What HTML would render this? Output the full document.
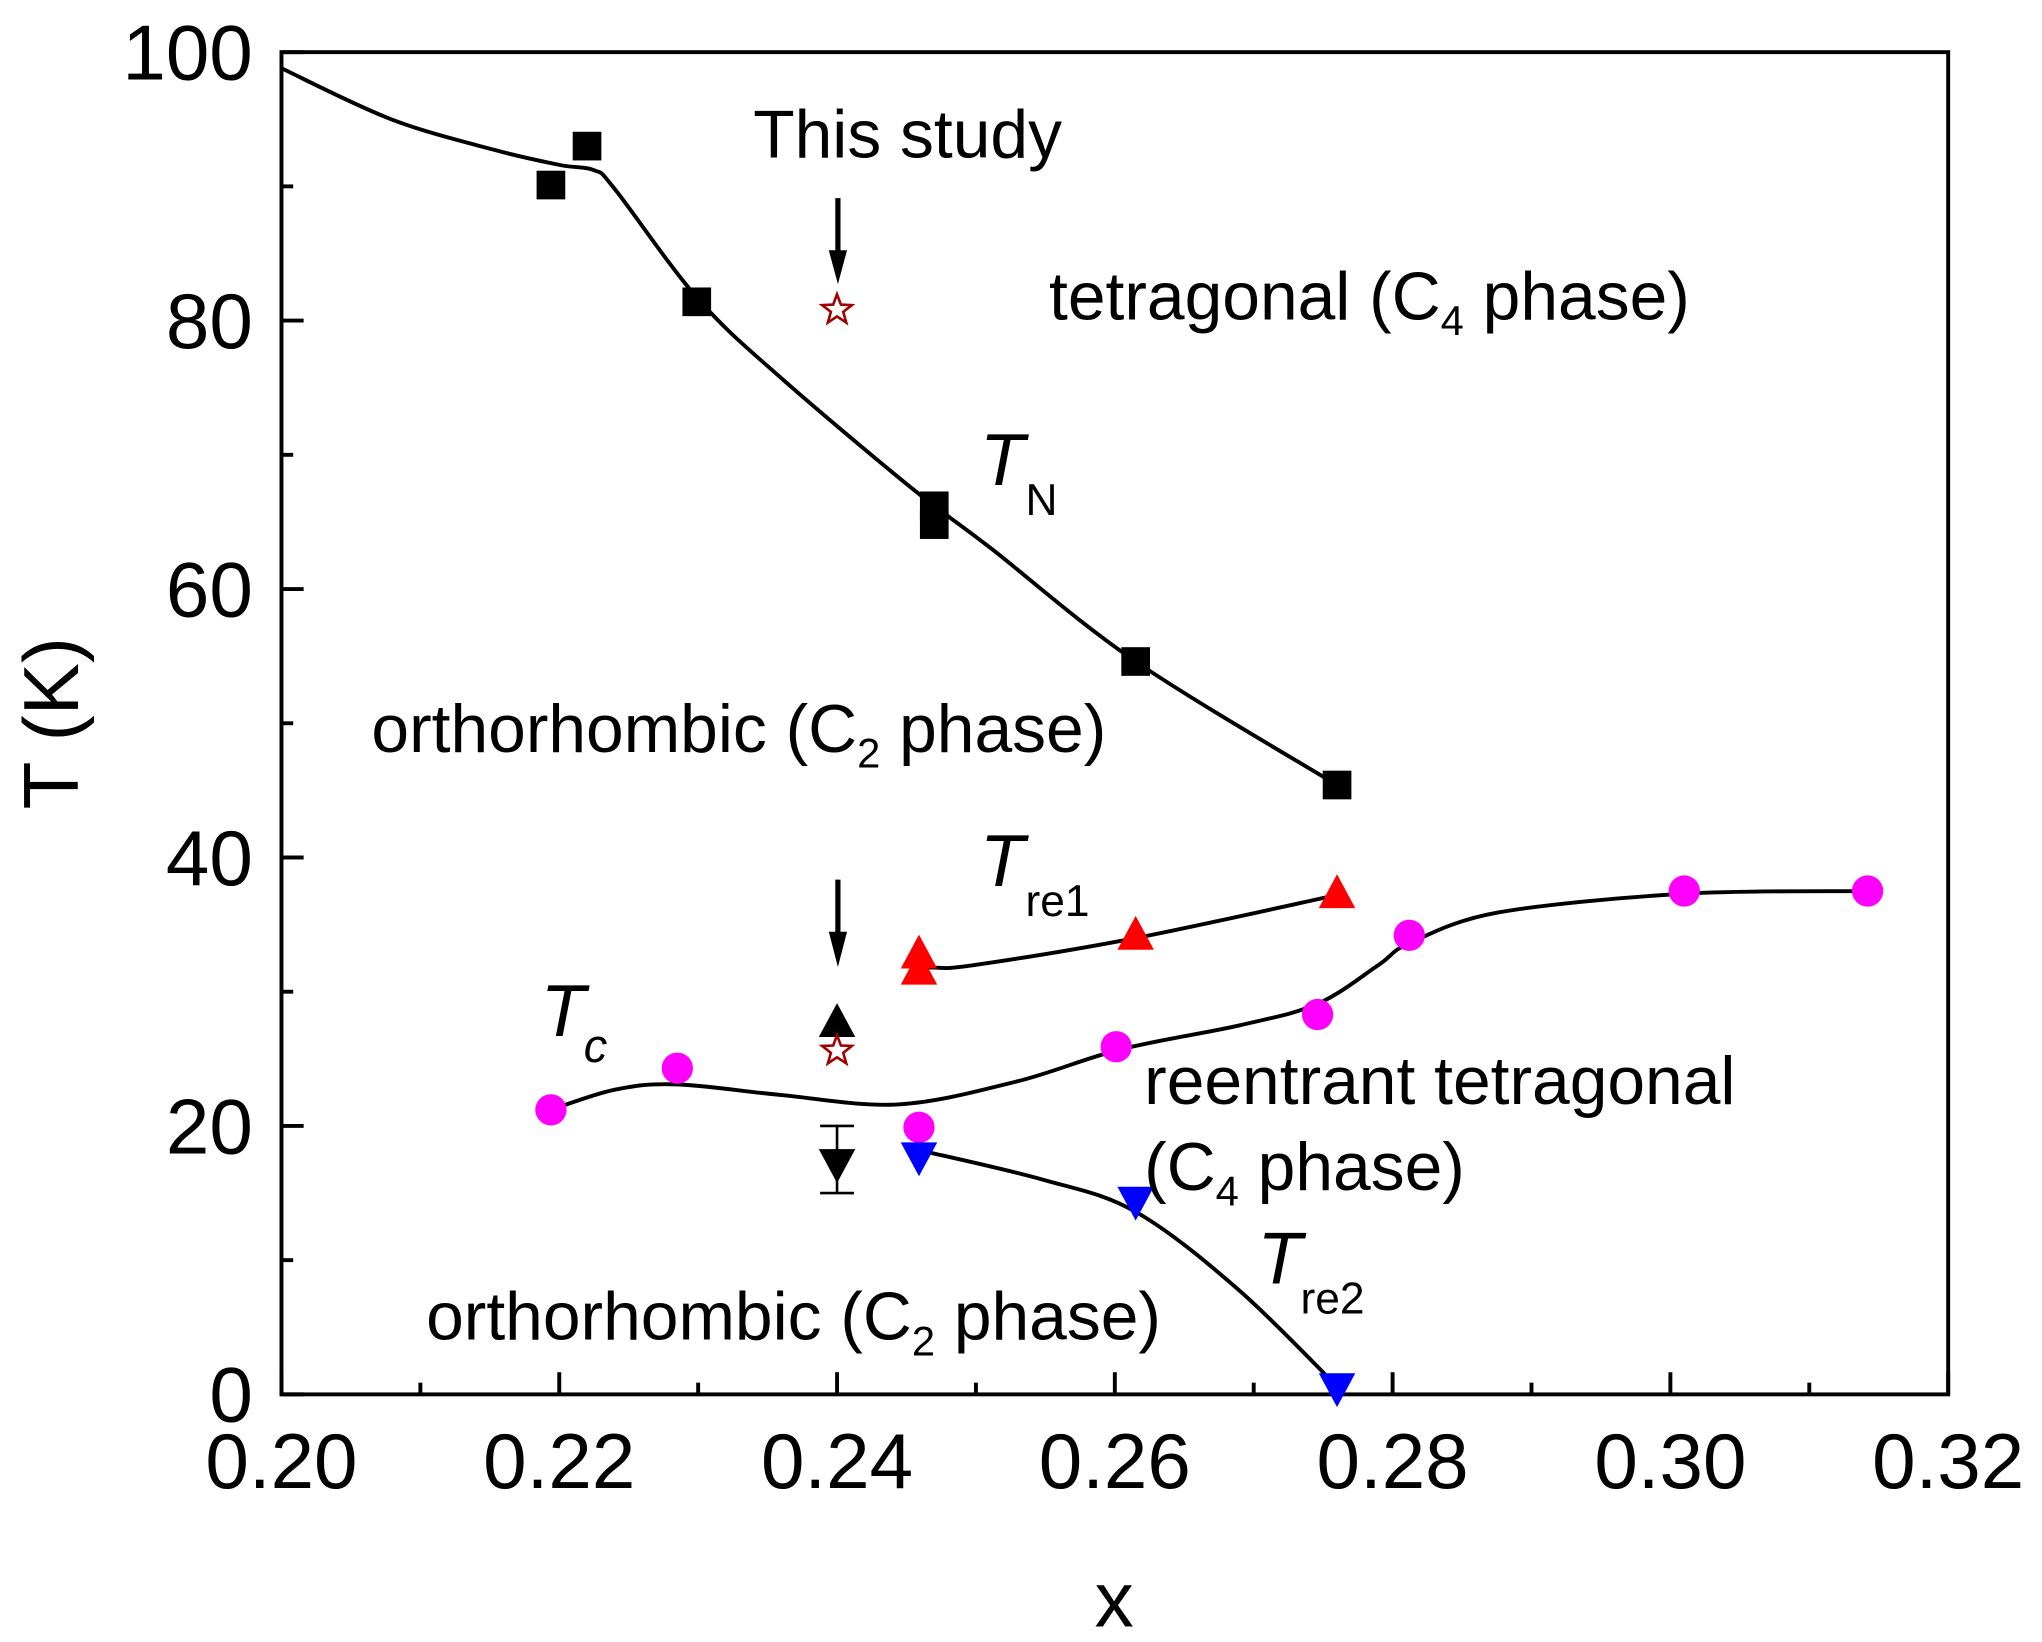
<!DOCTYPE html>
<html><head><meta charset="utf-8"><style>
html,body{margin:0;padding:0;background:#fff}
svg{display:block}
text{font-family:"Liberation Sans",Arial,sans-serif;fill:#000}
</style></head><body>
<svg id="chart" width="2042" height="1642" viewBox="0 0 1567 1260" xmlns="http://www.w3.org/2000/svg">
<g id="axes"></g>
<g id="lines"></g>
<g id="marks"></g>
<g>
<text x="578" y="121" font-size="52">This study</text>
<text x="805" y="245" font-size="52">tetragonal (C<tspan font-size="32" dy="12">4</tspan><tspan dy="-12"> phase)</tspan></text>
<text x="285" y="577" font-size="52">orthorhombic (C<tspan font-size="32" dy="12">2</tspan><tspan dy="-12"> phase)</tspan></text>
<text x="878" y="847" font-size="52">reentrant tetragonal</text>
<text x="878" y="913" font-size="52">(C<tspan font-size="32" dy="12">4</tspan><tspan dy="-12"> phase)</tspan></text>
<text x="327" y="1028" font-size="52">orthorhombic (C<tspan font-size="32" dy="12">2</tspan><tspan dy="-12"> phase)</tspan></text>
<text x="752" y="372" font-size="56" font-style="italic">T</text>
<text x="787" y="395" font-size="34">N</text>
<text x="752" y="680" font-size="56" font-style="italic">T</text>
<text x="787" y="703" font-size="34">re1</text>
<text x="415" y="795" font-size="56" font-style="italic">T</text>
<text x="448" y="815" font-size="36" font-style="italic">c</text>
<text x="965" y="985" font-size="56" font-style="italic">T</text>
<text x="998" y="1008" font-size="34">re2</text>
<text transform="translate(60,555) rotate(-90)" text-anchor="middle" font-size="60">T (K)</text>
<text x="855" y="1248" text-anchor="middle" font-size="60">x</text>
<g><line x1="643" y1="152" x2="643" y2="195" stroke="#000" stroke-width="4"/><polygon points="636,192 650,192 643,218" fill="#000"/></g>
<g><line x1="643" y1="675" x2="643" y2="718" stroke="#000" stroke-width="4"/><polygon points="636,715 650,715 643,742" fill="#000"/></g>
</g>
</svg>
<script>
var X0=0.20,X1=0.32,Y0=0,Y1=100,L=216,R=1495,T=40,B=1070;
var xTicks=[0.20,0.22,0.24,0.26,0.28,0.30,0.32];
var xTickLabels=["0.20","0.22","0.24","0.26","0.28","0.30","0.32"];
var yTicks=[0,20,40,60,80,100];
var yTickLabels=["0","20","40","60","80","100"];
var tnX=[0.2194,0.2220,0.2299,0.2470,0.2470,0.2615,0.2760];
var tnY=[90.1,93.0,81.4,66.2,64.8,54.6,45.4];
var tnLineX=[0.200,0.2079,0.2154,0.2200,0.2225,0.2240,0.2300,0.2360,0.2454,0.2510,0.2615,0.2760];
var tnLineY=[98.8,95.0,92.7,91.6,91.2,89.8,81.6,75.7,67.5,63.1,54.6,45.4];
var tre1X=[0.2459,0.2459,0.2615,0.2760];
var tre1Y=[32.8,31.6,34.2,37.3];
var tre1LineX=[0.2455,0.2458,0.2470,0.2500,0.2615,0.2760];
var tre1LineY=[32.6,32.0,31.8,32.0,34.0,37.2];
var tcX=[0.2194,0.2285,0.2459,0.2601,0.2746,0.2812,0.3010,0.3142];
var tcY=[21.2,24.3,19.9,25.9,28.3,34.2,37.5,37.5];
var tcLineX=[0.2194,0.2240,0.2285,0.2360,0.2444,0.2529,0.2604,0.2690,0.2746,0.2790,0.2812,0.2876,0.3010,0.3142];
var tcLineY=[21.2,22.7,23.1,22.3,21.6,23.3,25.7,27.5,29.1,32.0,33.6,35.9,37.3,37.5];
var tre2X=[0.2459,0.2615,0.2760];
var tre2Y=[17.7,14.4,0.5];
var tre2LineX=[0.2459,0.2548,0.2615,0.2689,0.2760];
var tre2LineY=[18.2,16.0,13.6,7.8,0.6];
var studyX=[0.2400,0.2400];
var studyY=[80.8,25.6];
var upX=[0.2400];
var upY=[27.7];
var downX=[0.2400];
var downY=[17.2];
var downErrLo=[15.0];
var downErrHi=[20.0];

var NS="http://www.w3.org/2000/svg";
function sx(v){return L+(v-X0)/(X1-X0)*(R-L);}
function sy(v){return B-(v-Y0)/(Y1-Y0)*(B-T);}
function mk(tag,parent,attrs){var e=document.createElementNS(NS,tag);for(var k in attrs)e.setAttribute(k,attrs[k]);parent.appendChild(e);return e;}
var ax=document.getElementById('axes'),ln=document.getElementById('lines'),mg=document.getElementById('marks');
var frame=mk('rect',ax,{x:L,y:T,width:R-L,height:B-T,fill:'none',stroke:'#000','stroke-width':3});


for(var i=0;i<xTicks.length;i++){
 var x=sx(xTicks[i]);
 var t=mk('line',ax,{x1:x,x2:x,y1:B,y2:B-17,stroke:'#000','stroke-width':3});
 
 
 var lb=mk('text',ax,{x:x,y:B+72,'text-anchor':'middle','font-size':60});lb.textContent=xTickLabels[i];
 
 
 if(i<xTicks.length-1){var xm=sx(xTicks[i]+0.01);
  var m=mk('line',ax,{x1:xm,x2:xm,y1:B,y2:B-9,stroke:'#000','stroke-width':3});
  
  }
}
for(var i=0;i<yTicks.length;i++){
 var y=sy(yTicks[i]);
 var t=mk('line',ax,{x1:L,x2:L+17,y1:y,y2:y,stroke:'#000','stroke-width':3});
 
 
 var lb=mk('text',ax,{x:L-22,y:y+21,'text-anchor':'end','font-size':60});lb.textContent=yTickLabels[i];
 
 
 if(i<yTicks.length-1){var ym=sy(yTicks[i]+10);
  var m=mk('line',ax,{x1:L,x2:L+9,y1:ym,y2:ym,stroke:'#000','stroke-width':3});
  
  }
}
function curve(xs,ys,name){
 var P=[];for(var j=0;j<xs.length;j++)P.push([sx(xs[j]),sy(ys[j])]);
 var d='M'+P[0][0]+','+P[0][1];
 for(var j=0;j<P.length-1;j++){
  var p0=P[Math.max(j-1,0)],p1=P[j],p2=P[j+1],p3=P[Math.min(j+2,P.length-1)];
  var c1x=p1[0]+(p2[0]-p0[0])/6,c1y=p1[1]+(p2[1]-p0[1])/6,c2x=p2[0]-(p3[0]-p1[0])/6,c2y=p2[1]-(p3[1]-p1[1])/6;
  d+=' C'+c1x.toFixed(1)+','+c1y.toFixed(1)+' '+c2x.toFixed(1)+','+c2y.toFixed(1)+' '+p2[0].toFixed(1)+','+p2[1].toFixed(1);
 }
 var p=mk('path',ln,{d:d,fill:'none',stroke:'#000','stroke-width':3,'stroke-linejoin':'round','stroke-linecap':'round'});
 
 
}
curve(tnLineX,tnLineY,'tn-curve');curve(tre1LineX,tre1LineY,'tre1-curve');curve(tcLineX,tcLineY,'tc-curve');curve(tre2LineX,tre2LineY,'tre2-curve');
function tri(x,y,up){var h=13,w=14;return up?(x-w)+','+(y+h*0.85)+' '+(x+w)+','+(y+h*0.85)+' '+x+','+(y-h*1.15):(x-w)+','+(y-h*0.85)+' '+(x+w)+','+(y-h*0.85)+' '+x+','+(y+h*1.15);}
for(var i=0;i<tnX.length;i++){
 var e=mk('rect',mg,{x:sx(tnX[i])-11,y:sy(tnY[i])-11,width:22,height:22,fill:'#000'});
 
 }
for(var i=0;i<tre1X.length;i++){
 var e=mk('polygon',mg,{points:tri(sx(tre1X[i]),sy(tre1Y[i]),true),fill:'#f00'});
 
 }
for(var i=0;i<tcX.length;i++){
 var e=mk('circle',mg,{cx:sx(tcX[i]),cy:sy(tcY[i]),r:12,fill:'#f0f'});
 
 }
for(var i=0;i<tre2X.length;i++){
 var e=mk('polygon',mg,{points:tri(sx(tre2X[i]),sy(tre2Y[i]),false),fill:'#00f'});
 
 }
for(var i=0;i<upX.length;i++){
 var e=mk('polygon',mg,{points:tri(sx(upX[i]),sy(upY[i]),true),fill:'#000'});
 
 }
for(var i=0;i<downX.length;i++){
 var x=sx(downX[i]);
 var eb=mk('path',mg,{d:'M'+x+','+sy(downErrHi[i])+'V'+sy(downErrLo[i])+'M'+(x-13)+','+sy(downErrHi[i])+'H'+(x+13)+'M'+(x-13)+','+sy(downErrLo[i])+'H'+(x+13),stroke:'#000','stroke-width':2,fill:'none'});
 
 
 var e=mk('polygon',mg,{points:tri(x,sy(downY[i]),false),fill:'#000'});
 
 }
for(var i=0;i<studyX.length;i++){
 var cx=sx(studyX[i]),cy=sy(studyY[i]),pts=[];
 for(var k=0;k<10;k++){var r=k%2?5:12,a=-Math.PI/2+k*Math.PI/5;pts.push((cx+r*Math.cos(a)).toFixed(1)+','+(cy+r*Math.sin(a)).toFixed(1));}
 var e=mk('polygon',mg,{points:pts.join(' '),fill:'#fff',stroke:'#a00000','stroke-width':2});
 
 }
</script>
</body></html>
